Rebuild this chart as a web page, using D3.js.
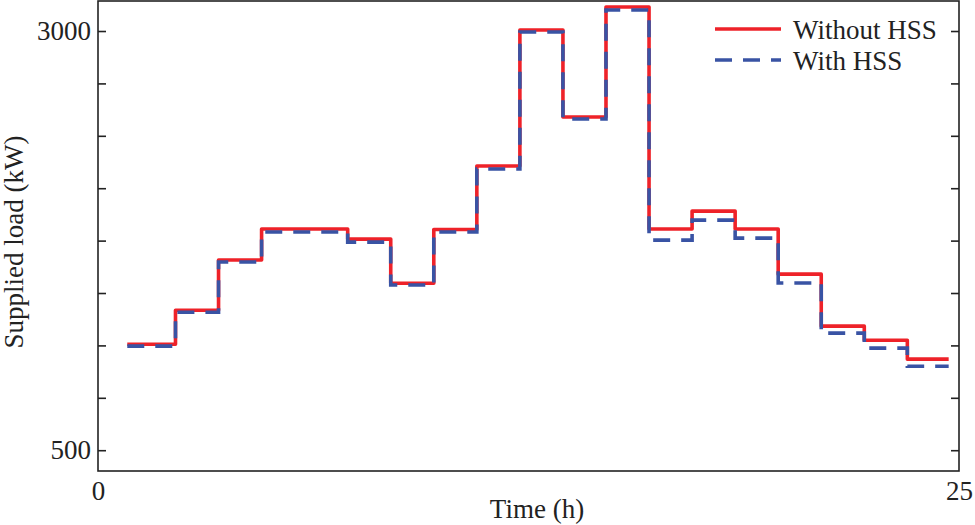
<!DOCTYPE html>
<html>
<head>
<meta charset="utf-8">
<script src="https://cdn.jsdelivr.net/npm/d3@7"></script>
<style>
  html, body { margin: 0; padding: 0; background: #fff; }
  svg { display: block; }
  text { font-family: "Liberation Serif", "DejaVu Serif", serif; fill: #222; }
</style>
</head>
<body>
<svg id="chart" width="975" height="525"></svg>
<script>
// ---- data ----
const stepStart = [0.85, 2.25, 3.5, 4.75, 7.25, 8.5, 9.75, 11, 12.25, 13.5, 14.75, 16, 17.25, 18.5, 19.75, 21, 22.25, 23.5];
const stepEnd = 24.7;
const withoutHSS = [1132, 1335, 1634, 1819, 1759, 1496, 1816, 2195, 3006, 2487, 3143, 1819, 1926, 1819, 1550, 1240, 1156, 1043];
const withHSS    = [1121, 1323, 1622, 1801, 1741, 1485, 1801, 2177, 2994, 2475, 3125, 1753, 1872, 1765, 1497, 1198, 1109, 1001];
const seriesNames = ["Without HSS", "With HSS"];
const yTickValues = [500, 812.5, 1125, 1437.5, 1750, 2062.5, 2375, 2687.5, 3000];
const yTickLabels = ["500", "", "", "", "", "", "", "", "3000"];
const xTickValues = [0, 25];
const xTickLabels = ["0", "25"];
const xTitle = "Time (h)";
const yTitle = "Supplied load (kW)";

// ---- layout ----
const svg = d3.select("#chart");
const L = 98, R = 959, T = 1, B = 471;
const x = d3.scaleLinear().domain([0, 25]).range([L, R]);
const y = d3.scaleLinear().domain([376, 3179]).range([B, T]);
const axisColor = "#222";
const fontSize = 27;

function toPoints(vals) {
  const pts = stepStart.map((t, i) => [t, vals[i]]);
  pts.push([stepEnd, vals[vals.length - 1]]);
  return pts;
}
const line = d3.line().x(d => x(d[0])).y(d => y(d[1])).curve(d3.curveStepAfter);

// series
svg.append("path").datum(toPoints(withoutHSS))
  .attr("d", line).attr("fill", "none")
  .attr("stroke", "#ee2229").attr("stroke-width", 3.6)
  .attr("stroke-linejoin", "round");
svg.append("path").datum(toPoints(withHSS))
  .attr("d", line).attr("fill", "none")
  .attr("stroke", "#3953a4").attr("stroke-width", 3.6)
  .attr("stroke-dasharray", "17,11");

// frame
svg.append("rect").attr("x", L).attr("y", T).attr("width", R - L).attr("height", B - T)
  .attr("fill", "none").attr("stroke", axisColor).attr("stroke-width", 1.6);

// left axis (ticks inward)
const yAxisL = d3.axisLeft(y).tickValues(yTickValues).tickSizeInner(-8).tickSizeOuter(0)
  .tickPadding(14).tickFormat((d, i) => yTickLabels[i]);
const gL = svg.append("g").attr("transform", `translate(${L},0)`).call(yAxisL);
gL.select(".domain").remove();
gL.selectAll("line").attr("stroke", axisColor).attr("stroke-width", 1.6);
gL.selectAll("text").attr("font-size", fontSize).attr("fill", axisColor)
  .attr("font-family", "Liberation Serif").attr("dx", 7);

// right axis (ticks inward, no labels)
const yAxisR = d3.axisRight(y).tickValues(yTickValues).tickSizeInner(-8).tickSizeOuter(0)
  .tickFormat("");
const gR = svg.append("g").attr("transform", `translate(${R},0)`).call(yAxisR);
gR.select(".domain").remove();
gR.selectAll("line").attr("stroke", axisColor).attr("stroke-width", 1.6);

// bottom axis labels
const xAxis = d3.axisBottom(x).tickValues(xTickValues).tickSize(0).tickPadding(10)
  .tickFormat((d, i) => xTickLabels[i]);
const gB = svg.append("g").attr("transform", `translate(0,${B})`).call(xAxis);
gB.select(".domain").remove();
gB.selectAll("text").attr("font-size", fontSize).attr("fill", axisColor)
  .attr("font-family", "Liberation Serif");

// titles
svg.append("text").attr("x", 537).attr("y", 518)
  .attr("text-anchor", "middle").attr("font-size", fontSize).text(xTitle);
svg.append("text").attr("transform", `translate(23,242) rotate(-90)`)
  .attr("text-anchor", "middle").attr("font-size", fontSize).text(yTitle);

// legend
const legend = svg.append("g");
const legendItems = [
  { name: seriesNames[0], color: "#ee2229", dash: null, y: 29 },
  { name: seriesNames[1], color: "#3953a4", dash: "17,11", y: 60 }
];
legendItems.forEach(it => {
  legend.append("line").attr("x1", 715).attr("x2", 781).attr("y1", it.y).attr("y2", it.y)
    .attr("stroke", it.color).attr("stroke-width", 3.6)
    .attr("stroke-dasharray", it.dash);
  legend.append("text").attr("x", 793).attr("y", it.y + 10)
    .attr("font-size", fontSize).text(it.name);
});
</script>
</body>
</html>
